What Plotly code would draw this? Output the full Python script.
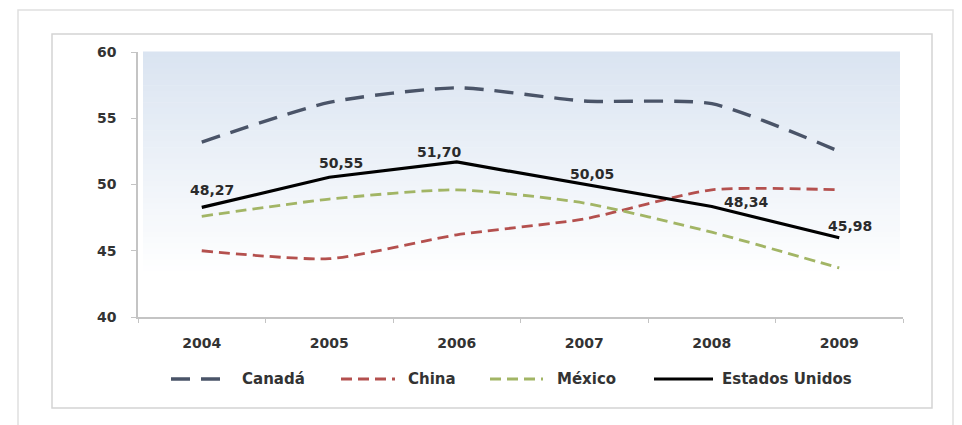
import plotly.graph_objects as go

years = ["2004", "2005", "2006", "2007", "2008", "2009"]
canada = [53.2, 56.2, 57.3, 56.3, 56.1, 52.5]
china = [45.0, 44.4, 46.2, 47.4, 49.6, 49.6]
mexico = [47.6, 48.9, 49.6, 48.6, 46.4, 43.7]
eeuu = [48.27, 50.55, 51.70, 50.05, 48.34, 45.98]
eeuu_labels = ["48,27", "50,55", "51,70", "50,05", "48,34", "45,98"]
label_shift = [(10, 17), (12, 14), (-17, 10), (8, 10), (35, 5), (11, 12)]

W, H = 962, 425
L, R, T, B = 138, 903, 52, 317
pw, ph = R - L, B - T
FONT = "DejaVu Sans"
TXT = "#333333"

def px(x):
    return (x - L) / pw

def py(y):
    return (B - y) / ph

series = [
    dict(name="Canadá", y=canada, color="#4a5468", width=3.4, dash="19px,11px", shape="spline"),
    dict(name="China", y=china, color="#b4504e", width=2.8, dash="11px,6px", shape="spline"),
    dict(name="México", y=mexico, color="#a2b565", width=2.8, dash="11px,6px", shape="spline"),
    dict(name="Estados Unidos", y=eeuu, color="#000000", width=3.2, dash="solid", shape="linear"),
]

fig = go.Figure()
for s in series:
    fig.add_trace(go.Scatter(x=years, y=s["y"], name=s["name"], mode="lines", showlegend=False,
                             line=dict(color=s["color"], width=s["width"], dash=s["dash"],
                                       shape=s["shape"], smoothing=0.6)))

for i, (v, t, (dx, dy)) in enumerate(zip(eeuu, eeuu_labels, label_shift)):
    fig.add_annotation(x=i, y=v, xref="x", yref="y", text="<b>" + t + "</b>", showarrow=False,
                       xshift=dx, yshift=dy, xanchor="center", yanchor="middle",
                       font=dict(family=FONT, size=14, color="#2b2b2b"))

shapes = []
# outer frame
shapes.append(dict(type="rect", xref="paper", yref="paper",
                   x0=px(18), x1=px(953), y0=py(440), y1=py(10),
                   line=dict(color="#e0e0e0", width=1.5), fillcolor="rgba(0,0,0,0)", layer="below"))
# inner chart frame
shapes.append(dict(type="rect", xref="paper", yref="paper",
                   x0=px(52), x1=px(932), y0=py(408), y1=py(34),
                   line=dict(color="#d4d4d4", width=1.5), fillcolor="white", layer="below"))
# gradient plot background
n = 40
top_c = (218, 228, 241)
fade_end = 0.15
for i in range(n):
    y1 = 1 - i / n * (1 - fade_end)
    y0 = 1 - (i + 1) / n * (1 - fade_end)
    f = i / (n - 1)
    c = tuple(int(round(tc + (255 - tc) * f)) for tc in top_c)
    shapes.append(dict(type="rect", xref="x domain", yref="y domain",
                       x0=(143 - L) / pw, x1=(900 - L) / pw, y0=y0, y1=y1 + 0.002,
                       line=dict(width=0), fillcolor="rgb(%d,%d,%d)" % c, layer="below"))

# legend (samples + labels)
leg_y = 379
leg_items = [(171, 227, 240), (341, 395, 406), (490, 543, 555), (654, 713, 720)]
for s, (x0, x1, xt) in zip(series, leg_items):
    shapes.append(dict(type="line", xref="paper", yref="paper",
                       x0=px(x0), x1=px(x1), y0=py(leg_y), y1=py(leg_y),
                       line=dict(color=s["color"], width=s["width"], dash=s["dash"])))
    fig.add_annotation(x=px(xt), y=py(leg_y), xref="paper", yref="paper", text="<b>" + s["name"] + "</b>",
                       showarrow=False, xanchor="left", yanchor="middle",
                       font=dict(family=FONT, size=15, color=TXT))

fig.update_layout(
    width=W, height=H,
    margin=dict(l=L, r=W - R, t=T, b=H - B, pad=0),
    paper_bgcolor="white", plot_bgcolor="rgba(0,0,0,0)",
    shapes=shapes,
    showlegend=False,
    font=dict(family=FONT),
)
fig.update_xaxes(type="category", range=[-0.5, 5.5], showgrid=False, zeroline=False,
                 showline=True, linecolor="#c4c4c4", linewidth=1.5,
                 ticks="outside", tickson="boundaries", ticklen=4, tickcolor="#c4c4c4",
                 ticklabelstandoff=12,
                 tickfont=dict(family=FONT, size=14, color=TXT, weight="bold"),
                 fixedrange=True)
fig.update_yaxes(range=[40, 60], tickvals=[40, 45, 50, 55, 60], showgrid=False, zeroline=False,
                 showline=True, linecolor="#c4c4c4", linewidth=1.5,
                 ticks="outside", ticklen=5, tickcolor="#c4c4c4",
                 ticklabelstandoff=12,
                 tickfont=dict(family=FONT, size=14, color=TXT, weight="bold"),
                 fixedrange=True)

fig.write_html("out.html")
